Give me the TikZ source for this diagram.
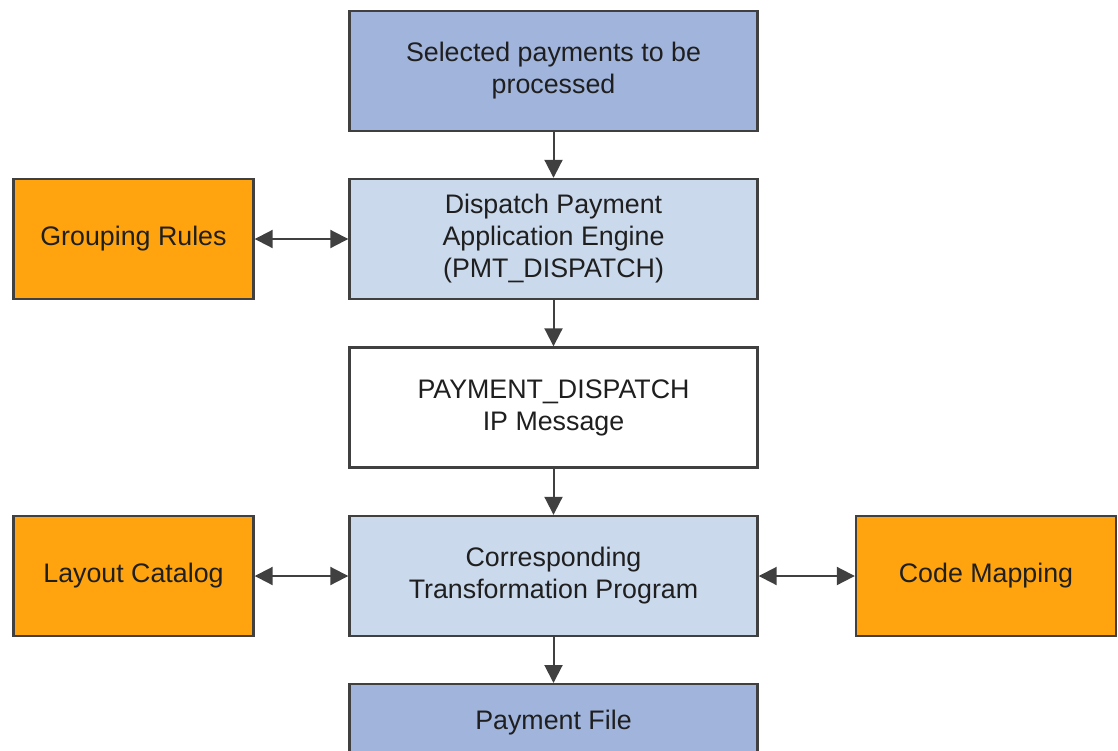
\documentclass[tikz,border=0pt]{standalone}
\usepackage{fontspec}
\setmainfont{Liberation Sans}
\usetikzlibrary{arrows.meta}
\definecolor{darkblue}{HTML}{A0B4DC}
\definecolor{lightblue}{HTML}{CBD9EC}
\definecolor{orangebox}{HTML}{FFA40F}
\definecolor{edgegray}{HTML}{404040}
\tikzset{
  box/.style={draw=edgegray, line width=1.2pt, align=center, text=black!88,
    minimum height=60pt, font=\fontsize{13.4}{16}\selectfont},
  mainbox/.style={box, minimum width=204pt},
  sidebox/.style={box, minimum width=120pt, fill=orangebox},
  flow/.style={draw=edgegray, line width=1pt, -{Triangle[width=9pt,length=9pt]}},
  both/.style={draw=edgegray, line width=1pt, {Triangle[width=9pt,length=9pt]}-{Triangle[width=9pt,length=9pt]}}
}
\begin{document}
\begin{tikzpicture}[x=0.5pt,y=-0.5pt]
  \useasboundingbox (0,0) rectangle (1118,750);
  \begin{scope}
    \clip (0,0) rectangle (1118,750);
    % main column
    \node[mainbox, fill=darkblue]  (sel)   at (553.5,71) {Selected payments to be\\processed};
    \node[mainbox, fill=lightblue] (disp)  at (553.5,239) {Dispatch Payment\\Application Engine\\(PMT\_DISPATCH)};
    \node[mainbox, fill=white]     (msg)   at (553.5,407.5) {PAYMENT\_DISPATCH\\IP Message};
    \node[mainbox, fill=lightblue] (trans) at (553.5,576) {Corresponding\\Transformation Program};
    % bottom box runs off the page, its text sits near the top
    \node[mainbox, fill=darkblue, anchor=north, inner sep=4.5pt,
      text height=18pt, text depth=33pt] (file) at (553.5,683) {Payment File};
    % side boxes
    \node[sidebox] (group)  at (133.5,239) {Grouping Rules};
    \node[sidebox] (layout) at (133.5,576) {Layout Catalog};
    \node[sidebox, minimum width=130pt] (code) at (986,576) {Code Mapping};
    % connectors
    \draw[flow] (sel) -- (disp);
    \draw[flow] (disp) -- (msg);
    \draw[flow] (msg) -- (trans);
    \draw[flow] (trans) -- (file);
    \draw[both] (group) -- (disp);
    \draw[both] (layout) -- (trans);
    \draw[both] (code) -- (trans);
  \end{scope}
\end{tikzpicture}
\end{document}
